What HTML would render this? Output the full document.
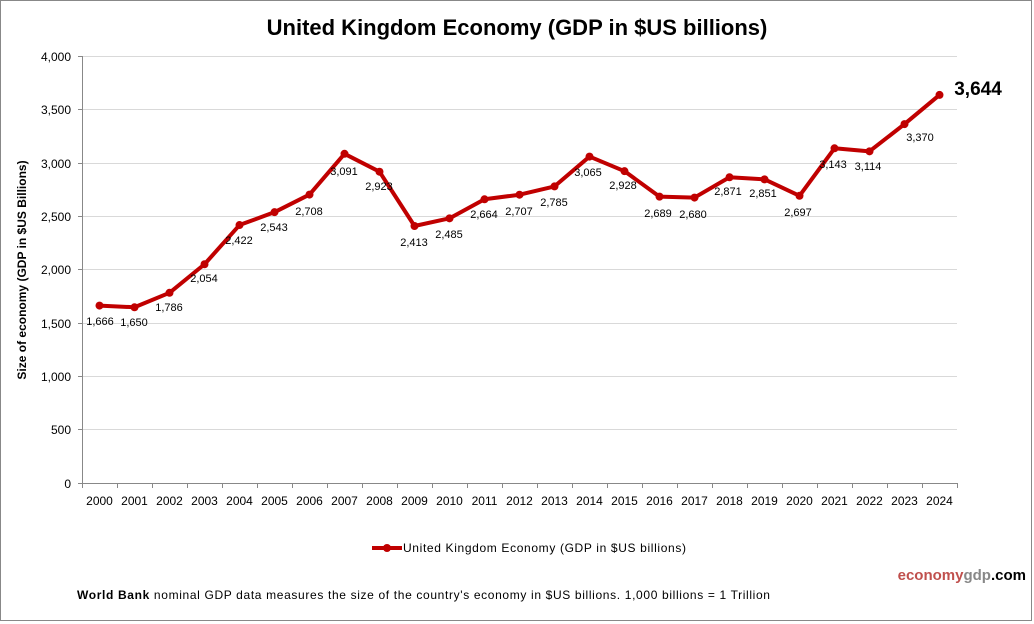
<!DOCTYPE html>
<html><head><meta charset="utf-8"><style>
body{margin:0;background:#fff}
svg{display:block;font-family:"Liberation Sans",Arial,sans-serif}
</style></head><body>
<svg width="1034" height="624" viewBox="0 0 1034 624">
<rect x="0.5" y="0.5" width="1031" height="620" fill="#fff" stroke="#888"/>
<text x="517" y="35" text-anchor="middle" font-size="22" font-weight="bold" fill="#000">United Kingdom Economy (GDP in $US billions)</text>
<g stroke="#d9d9d9" stroke-width="1">
<line x1="82" y1="56.5" x2="957" y2="56.5"/><line x1="82" y1="109.5" x2="957" y2="109.5"/>
<line x1="82" y1="163.5" x2="957" y2="163.5"/><line x1="82" y1="216.5" x2="957" y2="216.5"/>
<line x1="82" y1="269.5" x2="957" y2="269.5"/><line x1="82" y1="323.5" x2="957" y2="323.5"/>
<line x1="82" y1="376.5" x2="957" y2="376.5"/><line x1="82" y1="429.5" x2="957" y2="429.5"/>
</g>
<g stroke="#888" stroke-width="1">
<line x1="82.5" y1="56" x2="82.5" y2="483"/><line x1="82" y1="483.5" x2="957" y2="483.5"/>
<line x1="78" y1="56.5" x2="82" y2="56.5"/><line x1="78" y1="109.5" x2="82" y2="109.5"/><line x1="78" y1="163.5" x2="82" y2="163.5"/><line x1="78" y1="216.5" x2="82" y2="216.5"/><line x1="78" y1="269.5" x2="82" y2="269.5"/><line x1="78" y1="323.5" x2="82" y2="323.5"/><line x1="78" y1="376.5" x2="82" y2="376.5"/><line x1="78" y1="429.5" x2="82" y2="429.5"/><line x1="78" y1="483.5" x2="82" y2="483.5"/>
</g>
<g id="xt" stroke="#888"></g>
<g font-size="12" fill="#000" text-anchor="end">
<text x="71" y="61">4,000</text><text x="71" y="114">3,500</text><text x="71" y="168">3,000</text><text x="71" y="221">2,500</text><text x="71" y="274">2,000</text><text x="71" y="328">1,500</text><text x="71" y="381">1,000</text><text x="71" y="434">500</text><text x="71" y="488">0</text>
</g>
<text transform="translate(26,270) rotate(-90)" text-anchor="middle" font-size="12" font-weight="bold">Size of economy (GDP in $US Billions)</text>
<g id="xl" font-size="12" text-anchor="middle"></g>
<polyline id="ln" fill="none" stroke="#c00000" stroke-width="4" stroke-linejoin="round"/>
<g id="pts" fill="#c00000"></g>
<g id="lb" font-size="11" text-anchor="middle" fill="#000"></g>
<text x="978" y="95" text-anchor="middle" font-size="19" font-weight="bold">3,644</text>
<line x1="372" y1="548" x2="402" y2="548" stroke="#c00000" stroke-width="4"/><circle cx="387" cy="548" r="4" fill="#c00000"/>
<text x="403" y="552" font-size="12" textLength="283" lengthAdjust="spacing">United Kingdom Economy (GDP in $US billions)</text>
<text x="1026" y="580" text-anchor="end" font-size="15" font-weight="bold"><tspan fill="#c0504d">economy</tspan><tspan fill="#888">gdp</tspan><tspan fill="#000">.com</tspan></text>
<text x="77" y="599" font-size="12" textLength="693" lengthAdjust="spacing"><tspan font-weight="bold">World Bank</tspan> nominal GDP data  measures the size of the country's economy in $US billions. 1,000 billions = 1 Trillion</text>
</svg>
<script>
var v=[1666,1650,1786,2054,2422,2543,2708,3091,2923,2413,2485,2664,2707,2785,3065,2928,2689,2680,2871,2851,2697,3143,3114,3370,3644];
var L=[[100,321],[134,322],[169,307],[204,278],[239,240],[274,227],[309,211],[344,171],[379,186],[414,242],[449,234],[484,214],[519,211],[554,202],[588,172],[623,185],[658,213],[693,214],[728,191],[763,193],[798,212],[833,164],[868,166],[920,137]];
var ns="http://www.w3.org/2000/svg",pts=[];
function el(t,a,p,tx){var e=document.createElementNS(ns,t);for(var k in a)e.setAttribute(k,a[k]);if(tx)e.textContent=tx;document.getElementById(p).appendChild(e);}
for(var i=0;i<25;i++){var x=99.5+35*i,y=483-v[i]*0.1065;pts.push(x+","+y);
el("circle",{cx:x,cy:y,r:4},"pts");
el("text",{x:x,y:505},"xl",String(2000+i));
el("line",{x1:82+35*(i+1)+0.5,y1:483,x2:82+35*(i+1)+0.5,y2:488},"xt");
if(i<24)el("text",{x:L[i][0],y:L[i][1]+4},"lb",v[i].toLocaleString("en-US"));}
el("line",{x1:82.5,y1:483,x2:82.5,y2:488},"xt");
document.getElementById("ln").setAttribute("points",pts.join(" "));
</script>
</body></html>
